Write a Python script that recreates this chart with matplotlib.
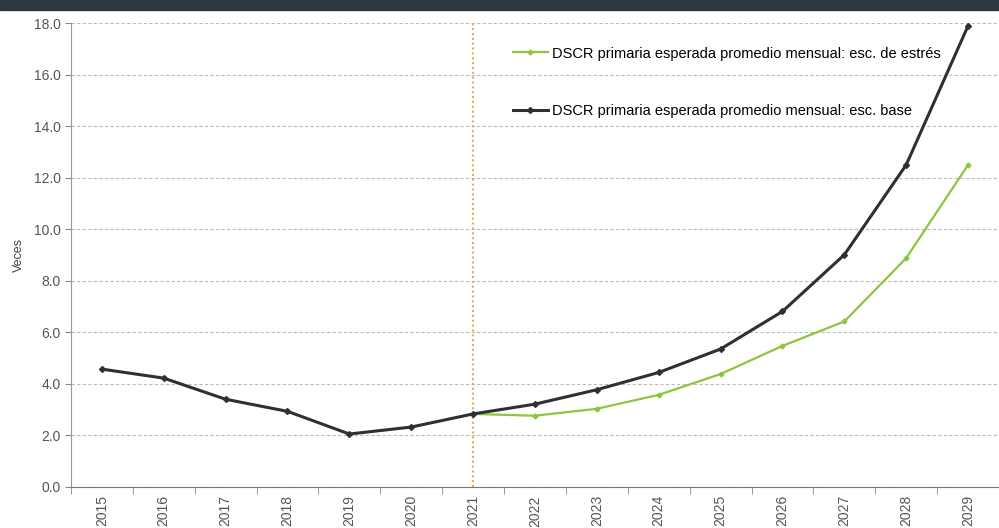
import numpy as np
import matplotlib.pyplot as plt
from matplotlib.patches import Rectangle

plt.rcParams['font.family'] = ['Liberation Sans', 'DejaVu Sans']

years = [str(y) for y in range(2015, 2030)]
base = [4.57, 4.22, 3.40, 2.93, 2.05, 2.32, 2.83, 3.21, 3.77, 4.44, 5.35, 6.81, 9.01, 12.5, 17.9]
stress = [None, None, None, None, None, None, 2.83, 2.76, 3.03, 3.57, 4.38, 5.47, 6.42, 8.88, 12.5]
label_stress = "DSCR primaria esperada promedio mensual: esc. de estrés"
label_base = "DSCR primaria esperada promedio mensual: esc. base"

fig = plt.figure(figsize=(9.99, 5.28), dpi=100)
fig.patches.append(Rectangle((0, 0.981), 1, 0.019, transform=fig.transFigure,
                             color='#2e3840', zorder=0))
ax = fig.add_axes([0.071, 0.078, 0.929, 0.878])

x = np.arange(len(years))
s = np.array([np.nan if v is None else v for v in stress], dtype=float)
ax.plot(x, s, color='#8cc63e', lw=1.6, marker='D', ms=2.5, label=label_stress, zorder=3)
ax.plot(x, base, color='#2b3136', lw=2.2, marker='D', ms=3, label=label_base, zorder=4)

ax.axvline(6, color='#f5a040', lw=1.4, ls=(0, (1, 1.5)), zorder=2)

ax.set_ylim(0, 18)
ax.set_yticks(np.arange(0, 18.1, 2))
ax.set_yticklabels([f"{v:.1f}" for v in np.arange(0, 18.1, 2)], fontsize=10, color='#555555')
ax.set_xlim(-0.5, 14.35)
ax.set_xticks(x)
ax.set_xticklabels(years, rotation=90, fontsize=10, color='#555555')
ax.tick_params(axis='x', length=0, pad=6)
ax.set_xticks(np.arange(-0.5, 14.6, 1), minor=True)
ax.tick_params(axis='x', which='minor', length=5, color='#888888')
ax.tick_params(axis='y', length=4, color='#888888')
ax.grid(axis='y', color='#bbbbbb', ls=(0, (3, 2)), lw=0.8)
ax.set_axisbelow(True)
for sp in ['top', 'right']:
    ax.spines[sp].set_visible(False)
ax.spines['left'].set_color('#999999')
ax.spines['bottom'].set_color('#777777')
ax.set_ylabel("Veces", fontsize=9, color='#444444', labelpad=6)

ax.legend(loc='upper left', bbox_to_anchor=(0.462, 0.978), frameon=False,
          fontsize=10.5, labelspacing=3.0, handlelength=2.4, handletextpad=0.3)

fig.savefig('out.png', dpi=100)
